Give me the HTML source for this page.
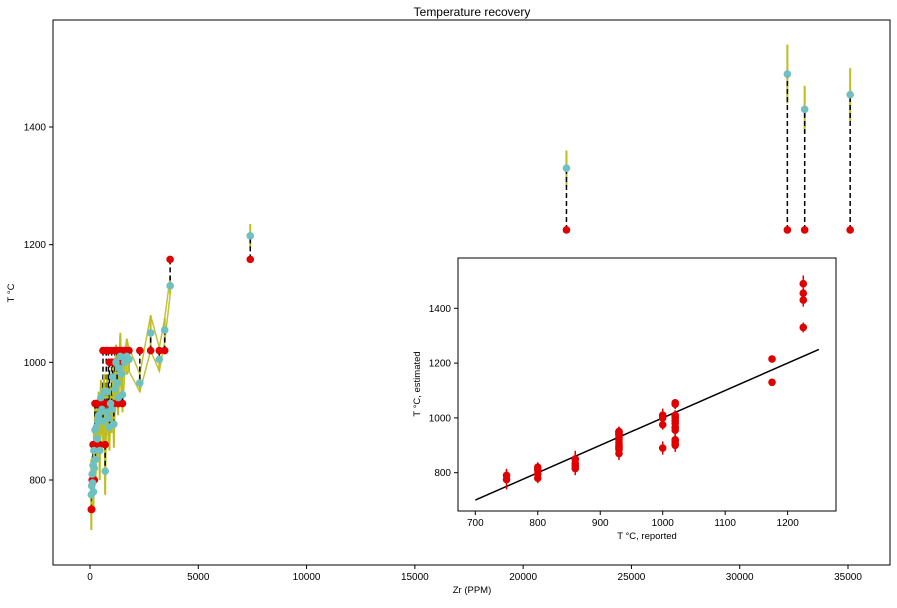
<!DOCTYPE html>
<html><head><meta charset="utf-8"><style>
body{margin:0;background:#fff;}
svg{font-family:"Liberation Sans","DejaVu Sans",sans-serif;}
</style></head><body>
<svg id="c" width="897" height="603" xmlns="http://www.w3.org/2000/svg"></svg>
<script>
const zr =  [60,80,100,120,140,160,180,200,230,260,300,330,360,400,450,500,550,600,650,700,750,800,850,900,950,1000,1050,1100,1150,1200,1250,1300,1350,1400,1450,1500,1600,1700,1800,2300,2800,3200,3450,3700,7400,22000,32200,33000,35100];
const reported = [750,750,800,800,860,800,860,800,930,860,930,930,930,930,860,930,930,1020,930,860,1020,930,1020,1000,930,1020,1000,930,1020,1000,1020,930,1020,1000,1020,930,1020,1020,1020,1020,1020,1020,1020,1175,1175,1225,1225,1225,1225];
const estimated = [775,790,810,795,825,780,850,820,885,835,890,870,900,910,850,940,920,900,950,815,915,950,905,890,930,920,975,895,955,1000,965,940,990,1010,980,945,1000,1010,1005,965,1050,1005,1055,1130,1215,1330,1490,1430,1455];
const errs = [60,40,30,40,40,30,30,30,40,40,30,40,30,40,50,30,40,40,30,40,40,30,40,40,30,40,30,40,40,30,40,30,30,40,30,30,20,30,20,15,30,20,20,15,20,30,50,40,45];
const xTicks=[0,5000,10000,15000,20000,25000,30000,35000];
const yTicks=[800,1000,1200,1400];
const ixTicks=[700,800,900,1000,1100,1200];
const iyTicks=[800,1000,1200,1400];
const lineX=[700,1250];

const NS="http://www.w3.org/2000/svg", svg=document.getElementById('c');
function el(t,a,p){const e=document.createElementNS(NS,t);for(const k in a)e.setAttribute(k,a[k]);(p||svg).appendChild(e);return e;}
function txt(x,y,s,a,p){const e=el('text',Object.assign({x:x,y:y,'font-size':10,fill:'#000'},a),p);e.textContent=s;return e;}

// main axes
const L=53,R=890,T=20,B=565;
const X=v=>90+v*(848-90)/35000;
const Y=v=>480-(v-800)*(480-127)/600;
const main=el('g',{});


// yellow bound polylines
const lowIdx=zr.map((z,i)=>i).filter(i=>zr[i]<4000);
['-','+'].forEach(s=>{
 const pts=lowIdx.map(i=>X(zr[i])+','+Y(estimated[i]+(s=='+'?errs[i]:-errs[i]))).join(' ');
 const p=el('polyline',{points:pts,fill:'none',stroke:'#bcbd22','stroke-width':1.5,opacity:0.9},main);
 
 
});
zr.forEach((z,i)=>{
 const eb=el('line',{x1:X(z),x2:X(z),y1:Y(estimated[i]-errs[i]),y2:Y(estimated[i]+errs[i]),stroke:'#bcbd22','stroke-width':2},main);
 
 
 const dl=el('line',{x1:X(z),x2:X(z),y1:Y(reported[i]),y2:Y(estimated[i]),stroke:'#000','stroke-width':1.5,'stroke-dasharray':'5,3'},main);
 
 
});
zr.forEach((z,i)=>{
 const r=el('circle',{cx:X(z),cy:Y(reported[i]),r:3.8,fill:'#e00000'},main);
 
 
});
zr.forEach((z,i)=>{
 const c=el('circle',{cx:X(z),cy:Y(estimated[i]),r:3.8,fill:'#6fc0c0'},main);
 
 
});
const frame=el('rect',{x:L,y:T,width:R-L,height:B-T,fill:'none',stroke:'#000','stroke-width':1});


xTicks.forEach(v=>{el('line',{x1:X(v),x2:X(v),y1:B,y2:B+4,stroke:'#000'});const t=txt(X(v),B+15,String(v),{'text-anchor':'middle'});});
yTicks.forEach(v=>{el('line',{x1:L-4,x2:L,y1:Y(v),y2:Y(v),stroke:'#000'});const t=txt(L-7,Y(v)+3.5,String(v),{'text-anchor':'end'});});
const xt=txt(472,593,'Zr (PPM)',{'text-anchor':'middle','font-size':9.5});
const yt=txt(0,0,'T °C',{'text-anchor':'middle','transform':'translate(14,293) rotate(-90)','font-size':9.5});
const tt=txt(472,16,'Temperature recovery',{'text-anchor':'middle','font-size':12});

// inset
const iL=458,iR=836,iT=258,iB=511;
const IX=v=>475.3+(v-700)*0.6247;
const IY=v=>472.7-(v-800)*0.274;
const ins=el('g',{});


el('rect',{x:iL,y:iT,width:iR-iL,height:iB-iT,fill:'#fff',stroke:'none'},ins);
const ln=el('line',{x1:IX(lineX[0]),y1:IY(lineX[0]),x2:IX(lineX[1]),y2:IY(lineX[1]),stroke:'#000','stroke-width':1.5},ins);


reported.forEach((r,i)=>{
 const e=el('line',{x1:IX(r),x2:IX(r),y1:IY(estimated[i]-errs[i]*0.6),y2:IY(estimated[i]+errs[i]*0.6),stroke:'#e00000','stroke-width':1.5},ins);
 
 
 const c=el('circle',{cx:IX(r),cy:IY(estimated[i]),r:3.8,fill:'#e00000'},ins);
 
 
});
el('rect',{x:iL,y:iT,width:iR-iL,height:iB-iT,fill:'none',stroke:'#000','stroke-width':1},ins);
ixTicks.forEach(v=>{el('line',{x1:IX(v),x2:IX(v),y1:iB,y2:iB+4,stroke:'#000'},ins);const t=txt(IX(v),iB+15,String(v),{'text-anchor':'middle'},ins);});
iyTicks.forEach(v=>{el('line',{x1:iL-4,x2:iL,y1:IY(v),y2:IY(v),stroke:'#000'},ins);const t=txt(iL-7,IY(v)+3.5,String(v),{'text-anchor':'end'},ins);});
const ixt=txt(647,539,'T °C, reported',{'text-anchor':'middle','font-size':9.5},ins);
const iyt=txt(0,0,'T °C, estimated',{'text-anchor':'middle','transform':'translate(420,384) rotate(-90)','font-size':9.5},ins);
</script>
</body></html>
